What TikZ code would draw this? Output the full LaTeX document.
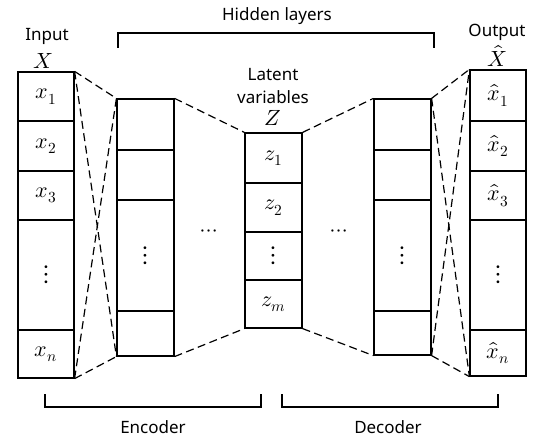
\documentclass[tikz,border=0pt]{standalone}
\usepackage{fontspec}
\usepackage{unicode-math}
\setmainfont{Noto Sans}
\setmathfont{Latin Modern Math}
\begin{document}
\begin{tikzpicture}[x=1pt,y=-1pt,
  cell/.style={draw, line width=1.2pt, inner sep=0pt, font=\fontsize{22}{24}\selectfont},
  colin/.style={cell, minimum width=56pt},
  colh/.style={cell, minimum width=57pt},
  vd/.style={font=\fontsize{27}{28}\selectfont},
  link/.style={line width=1.2pt, dash pattern=on 8pt off 4.5pt},
  brk/.style={line width=1.2pt},
  lab/.style={font=\fontsize{17}{20}\selectfont, inner sep=0pt},
  mlab/.style={font=\fontsize{22}{24}\selectfont, inner sep=0pt}]
\path[use as bounding box] (0,0) rectangle (538,438);
% input
\node[colin, minimum height=49pt] (i1) at (46,96.5) {$x_1$};
\node[colin, minimum height=50pt] (i2) at (46,146) {$x_2$};
\node[colin, minimum height=49pt] (i3) at (46,195.5) {$x_3$};
\node[colin, vd, minimum height=110pt] (i4) at (46,275) {$\vdots$};
\node[colin, minimum height=48pt] (i5) at (46,354) {$x_n$};
% hidden encoder
\node[colh, minimum height=51pt] (a1) at (145.5,124.5) {};
\node[colh, minimum height=50pt] (a2) at (145.5,175) {};
\node[colh, vd, minimum height=111pt] (a3) at (145.5,255.5) {$\vdots$};
\node[colh, minimum height=45pt] (a4) at (145.5,333.5) {};
% latent
\node[colh, minimum height=50pt] (z1) at (273.5,158) {$z_1$};
\node[colh, minimum height=49pt] (z2) at (273.5,207.5) {$z_2$};
\node[colh, vd, minimum height=48pt] (z3) at (273.5,256) {$\vdots$};
\node[colh, minimum height=48pt] (z4) at (273.5,304) {$z_m$};
% hidden decoder
\node[colh, minimum height=51pt] (b1) at (402.5,124.5) {};
\node[colh, minimum height=50pt] (b2) at (402.5,175) {};
\node[colh, vd, minimum height=111pt] (b3) at (402.5,255.5) {$\vdots$};
\node[colh, minimum height=44pt] (b4) at (402.5,333) {};
% output
\node[colin, minimum height=51pt] (o1) at (498,95.5) {$\hat{x}_1$};
\node[colin, minimum height=50pt] (o2) at (498,146) {$\hat{x}_2$};
\node[colin, minimum height=49pt] (o3) at (498,195.5) {$\hat{x}_3$};
\node[colin, vd, minimum height=110pt] (o4) at (498,275) {$\vdots$};
\node[colin, minimum height=46pt] (o5) at (498,353) {$\hat{x}_n$};
% dashed links
\draw[link] (i1.north east) -- (a1.north west);
\draw[link] (i1.north east) -- (a4.south west);
\draw[link] (i5.south east) -- (a1.north west);
\draw[link] (i5.south east) -- (a4.south west);
\draw[link] (a1.north east) -- (z1.north west);
\draw[link] (a4.south east) -- (z4.south west);
\draw[link] (z1.north east) -- (b1.north west);
\draw[link] (z4.south east) -- (b4.south west);
\draw[link] (b1.north east) -- (o1.north west);
\draw[link] (b1.north east) -- (o5.south west);
\draw[link] (b4.south east) -- (o1.north west);
\draw[link] (b4.south east) -- (o5.south west);
% ellipses
\node[mlab] (d1) at (209.5,233) {$\cdots$};
\node[mlab] (d2) at (339,233) {$\cdots$};
% labels
\node[lab] (tin) at (47,36) {Input};
\node[mlab] (tx) at (43,61) {$X$};
\node[lab] (tout) at (497,32) {Output};
\node[mlab] (txh) at (497,56) {$\hat{X}$};
\node[lab] (tlat1) at (273,75) {Latent};
\node[lab] (tlat2) at (273,97) {variables};
\node[mlab] (tz) at (273,118) {$Z$};
\node[lab] (thid) at (277,16) {Hidden layers};
\node[lab] (tenc) at (153,427) {Encoder};
\node[lab] (tdec) at (388,427) {Decoder};
% brackets
\coordinate (h1) at (118,48); \coordinate (h2) at (434,48);
\draw[brk] (h1) -- ++(0,-15) -| (h2);
\coordinate (e1) at (45,394); \coordinate (e2) at (261,394);
\draw[brk] (e1) -- ++(0,13) -| (e2);
\coordinate (c1) at (282,394); \coordinate (c2) at (498,394);
\draw[brk] (c1) -- ++(0,13) -| (c2);
\end{tikzpicture}
\end{document}
